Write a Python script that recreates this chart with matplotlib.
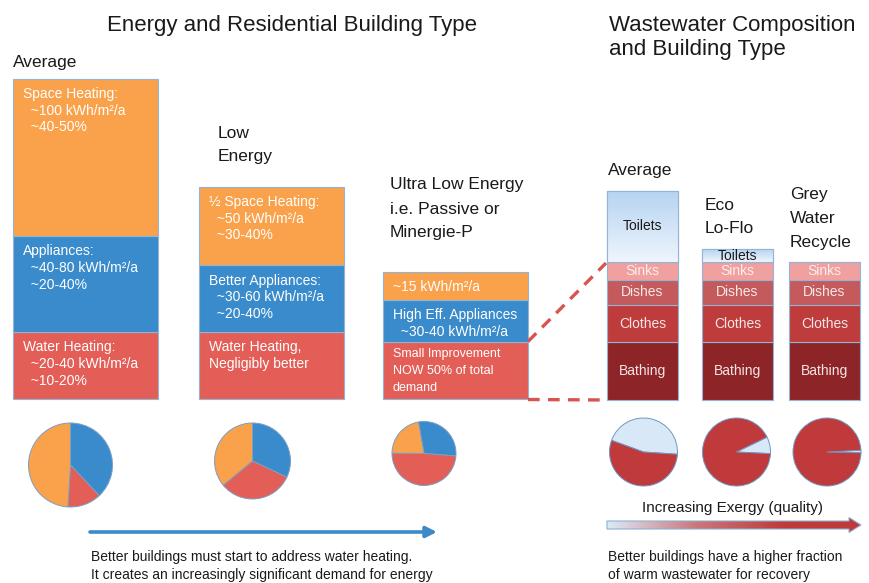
import numpy as np
import matplotlib
matplotlib.use("Agg")
import matplotlib.pyplot as plt
from matplotlib.patches import Polygon
from matplotlib.colors import LinearSegmentedColormap

plt.rcParams['font.family'] = ['Liberation Sans', 'DejaVu Sans']

# ---------------- data (segment sizes) ----------------
energy_types = ["Average", "Low\nEnergy", "Ultra Low Energy\ni.e. Passive or\nMinergie-P"]
water_heating = [67, 67, 57]
appliances = [96, 67, 42]
space_heating = [157, 78, 28]

space_labels = [["Space Heating:", "  ~100 kWh/m²/a", "  ~40-50%"],
                ["½ Space Heating:", "  ~50 kWh/m²/a", "  ~30-40%"],
                ["~15 kWh/m²/a"]]
appl_labels = [["Appliances:", "  ~40-80 kWh/m²/a", "  ~20-40%"],
               ["Better Appliances:", "  ~30-60 kWh/m²/a", "  ~20-40%"],
               ["High Eff. Appliances", "  ~30-40 kWh/m²/a"]]
water_labels = [["Water Heating:", "  ~20-40 kWh/m²/a", "  ~10-20%"],
                ["Water Heating,", "Negligibly better"],
                ["Small Improvement", "NOW 50% of total", "demand"]]

# pie shares: blue (appliances), red (water heating), orange (space heating)
energy_pie_appl = [38, 32, 29]
energy_pie_water = [13, 32, 49]
energy_pie_space = [49, 36, 22]

ww_types = ["Average", "Eco\nLo-Flo", "Grey\nWater\nRecycle"]
ww_components = ["Bathing", "Clothes", "Dishes", "Sinks", "Toilets"]
bathing = [58, 58, 58]
clothes = [37, 37, 37]
dishes = [25, 25, 25]
sinks = [18, 18, 18]
toilets = [71, 13, 0]

# wastewater pie shares: toilets (cold) vs warm wastewater
ww_pie_toilets = [45.5, 8, 1.2]
ww_pie_warm = [54.5, 92, 98.8]

# ---------------- styling / layout ----------------
W, H = 870, 583
C_ORANGE = '#F9A24B'
C_BLUE = '#3A8BCB'
C_RED = '#E35E57'
C_EDGE = '#93B4D6'
ww_colors = {"Bathing": '#8D2427', "Clothes": '#BE3C3C', "Dishes": '#C45A5B',
             "Sinks": '#EFA09F', "Toilets": '#CFE3F6'}
C_WWRED = '#C0393B'
C_LBLUE = '#D8E8F7'

def P(y):
    return H - y

fig = plt.figure(figsize=(8.7, 5.83), dpi=100)
ax = fig.add_axes([0, 0, 1, 1])

# ---- titles ----
ax.text(292, P(25), "Energy and Residential Building Type", fontsize=16,
        ha='center', va='center', color='#1a1a1a')
ax.text(609, P(25), "Wastewater Composition", fontsize=16, ha='left', va='center', color='#1a1a1a')
ax.text(609, P(49), "and Building Type", fontsize=16, ha='left', va='center', color='#1a1a1a')

# ---- energy bars ----
e_left = [13, 199, 383]
e_width = 145
e_base = P(399)
e_x = [l + e_width / 2 for l in e_left]
bw = ax.bar(e_x, water_heating, width=e_width, bottom=e_base, color=C_RED,
            edgecolor=C_EDGE, linewidth=0.8)
b1 = [e_base + v for v in water_heating]
ba = ax.bar(e_x, appliances, width=e_width, bottom=b1, color=C_BLUE,
            edgecolor=C_EDGE, linewidth=0.8)
b2 = [b1[i] + appliances[i] for i in range(3)]
bs = ax.bar(e_x, space_heating, width=e_width, bottom=b2, color=C_ORANGE,
            edgecolor=C_EDGE, linewidth=0.8)

# category labels above energy bars
lab_pos = [(13, 62), (218, 133), (390, 185)]
for name, (lx, ly) in zip(energy_types, lab_pos):
    for k, line in enumerate(name.split("\n")):
        ax.text(lx, P(ly + k * 24), line, fontsize=12.5, ha='left', va='center', color='#1a1a1a')

def seg_text(i, top, lines, size=10, gap=16.7, pad=10, first_off=14):
    x0 = e_left[i] + pad
    for k, line in enumerate(lines):
        ax.text(x0, top - first_off - k * gap, line, fontsize=size, color='white',
                ha='left', va='center')

for i in range(3):
    top_s = b2[i] + space_heating[i]
    seg_text(i, top_s, space_labels[i], first_off=15)
    seg_text(i, b2[i], appl_labels[i], first_off=15.5)
    seg_text(i, b1[i], water_labels[i], size=10 if i < 2 else 9,
             first_off=15.5 if i < 2 else 12.5)

# energy pies
e_pies = [(70.5, 465, 42), (252.5, 461, 38), (424, 453.5, 32)]
starts = [90, 90, 100]
for i, (cx, cy, r) in enumerate(e_pies):
    ax.pie([energy_pie_appl[i], energy_pie_water[i], energy_pie_space[i]],
           colors=[C_BLUE, C_RED, C_ORANGE], startangle=starts[i], counterclock=False,
           center=(cx, P(cy)), radius=r, frame=True,
           wedgeprops=dict(edgecolor='#7C9FC4', linewidth=0.7))

# blue arrow
ax.annotate('', xy=(437, P(532)), xytext=(90, P(532)),
            arrowprops=dict(arrowstyle='-|>', color='#3C8BC8', lw=2.6,
                            mutation_scale=16, shrinkA=0, shrinkB=0))
ax.text(91, P(557), "Better buildings must start to address water heating.", fontsize=10,
        ha='left', va='center', color='#1a1a1a')
ax.text(91, P(575), "It creates an increasingly significant demand for energy", fontsize=10,
        ha='left', va='center', color='#1a1a1a')

# ---- wastewater bars ----
w_left = [607, 702, 789]
w_width = 71
w_base = P(400)
w_x = [l + w_width / 2 for l in w_left]
series = [bathing, clothes, dishes, sinks, toilets]
bottom = [w_base] * 3
text_cols = {"Bathing": '#F6E4E4', "Clothes": '#F8E6E6', "Dishes": '#F8E8E8',
             "Sinks": '#FDEDED', "Toilets": '#1a1a1a'}
for name, vals in zip(ww_components, series):
    bars = ax.bar(w_x, vals, width=w_width, bottom=bottom, color=ww_colors[name],
                  edgecolor=C_EDGE, linewidth=0.8)
    for j in range(3):
        if vals[j] <= 0:
            continue
        if name == "Toilets":
            # vertical gradient fill
            rect = bars[j]
            grad = np.linspace(1, 0, 64).reshape(-1, 1)
            cm = LinearSegmentedColormap.from_list('tl', ['#B6D4F1', '#EEF5FD'])
            im = ax.imshow(grad, cmap=cm, aspect='auto', origin='lower',
                           extent=(w_left[j], w_left[j] + w_width, bottom[j],
                                   bottom[j] + vals[j]), zorder=1.5)
            im.set_clip_path(rect)
            ax.bar(w_x[j], vals[j], width=w_width, bottom=bottom[j], fill=False,
                   edgecolor=C_EDGE, linewidth=0.8, zorder=1.6)
        cy = bottom[j] + vals[j] / 2
        if name == "Toilets" and vals[j] < 20:
            cy = bottom[j] + 6
        ax.text(w_x[j], cy, name, fontsize=10, ha='center', va='center',
                color=text_cols[name], zorder=3)
    bottom = [bottom[j] + vals[j] for j in range(3)]

ww_lab_pos = [(608, 171), (705, 205), (790, 195)]
for name, (lx, ly) in zip(ww_types, ww_lab_pos):
    for k, line in enumerate(name.split("\n")):
        ax.text(lx, P(ly + k * 23.5), line, fontsize=12.5, ha='left', va='center', color='#1a1a1a')

# dashed connectors
ax.plot([528, 606], [P(341.5), P(263)], color='#D9534F', lw=2.4, ls=(0, (3.5, 2.5)))
ax.plot([528, 606], [P(399.5), P(400)], color='#D9534F', lw=2.4, ls=(0, (3.5, 2.5)))

# wastewater pies
w_pies = [(643.5, 452, 34), (736.5, 452, 34), (827, 452, 34)]
w_starts = [160, 26, 3]
for j, (cx, cy, r) in enumerate(w_pies):
    ax.pie([ww_pie_toilets[j], ww_pie_warm[j]], colors=[C_LBLUE, C_WWRED],
           startangle=w_starts[j], counterclock=False, center=(cx, P(cy)), radius=r,
           frame=True, wedgeprops=dict(edgecolor='#6F98C2', linewidth=0.7))

# gradient arrow
ax.text(733, P(508), "Increasing Exergy (quality)", fontsize=11, ha='center', va='center',
        color='#1a1a1a')
yc = P(525)
x0, xh, xt = 607, 849, 861
poly = Polygon([(x0, yc - 4), (xh, yc - 4), (xh, yc - 7.5), (xt, yc), (xh, yc + 7.5),
                (xh, yc + 4), (x0, yc + 4)], closed=True, facecolor='none',
               edgecolor='#8FB0D0', linewidth=0.8, zorder=3)
ax.add_patch(poly)
gcm = LinearSegmentedColormap.from_list('ex', [(0, '#DCEBF8'), (0.35, '#C9787D'),
                                               (0.7, '#C0393B'), (1, '#C0393B')])
gim = ax.imshow(np.linspace(0, 1, 256).reshape(1, -1), cmap=gcm, aspect='auto',
                extent=(x0, xt, yc - 8, yc + 8), zorder=2)
gim.set_clip_path(poly)

ax.text(608, P(557), "Better buildings have a higher fraction", fontsize=10,
        ha='left', va='center', color='#1a1a1a')
ax.text(608, P(575), "of warm wastewater for recovery", fontsize=10,
        ha='left', va='center', color='#1a1a1a')

ax.set_xlim(0, W)
ax.set_ylim(0, H)
ax.set_aspect('auto')
ax.axis('off')
fig.savefig("out.png", dpi=100)
